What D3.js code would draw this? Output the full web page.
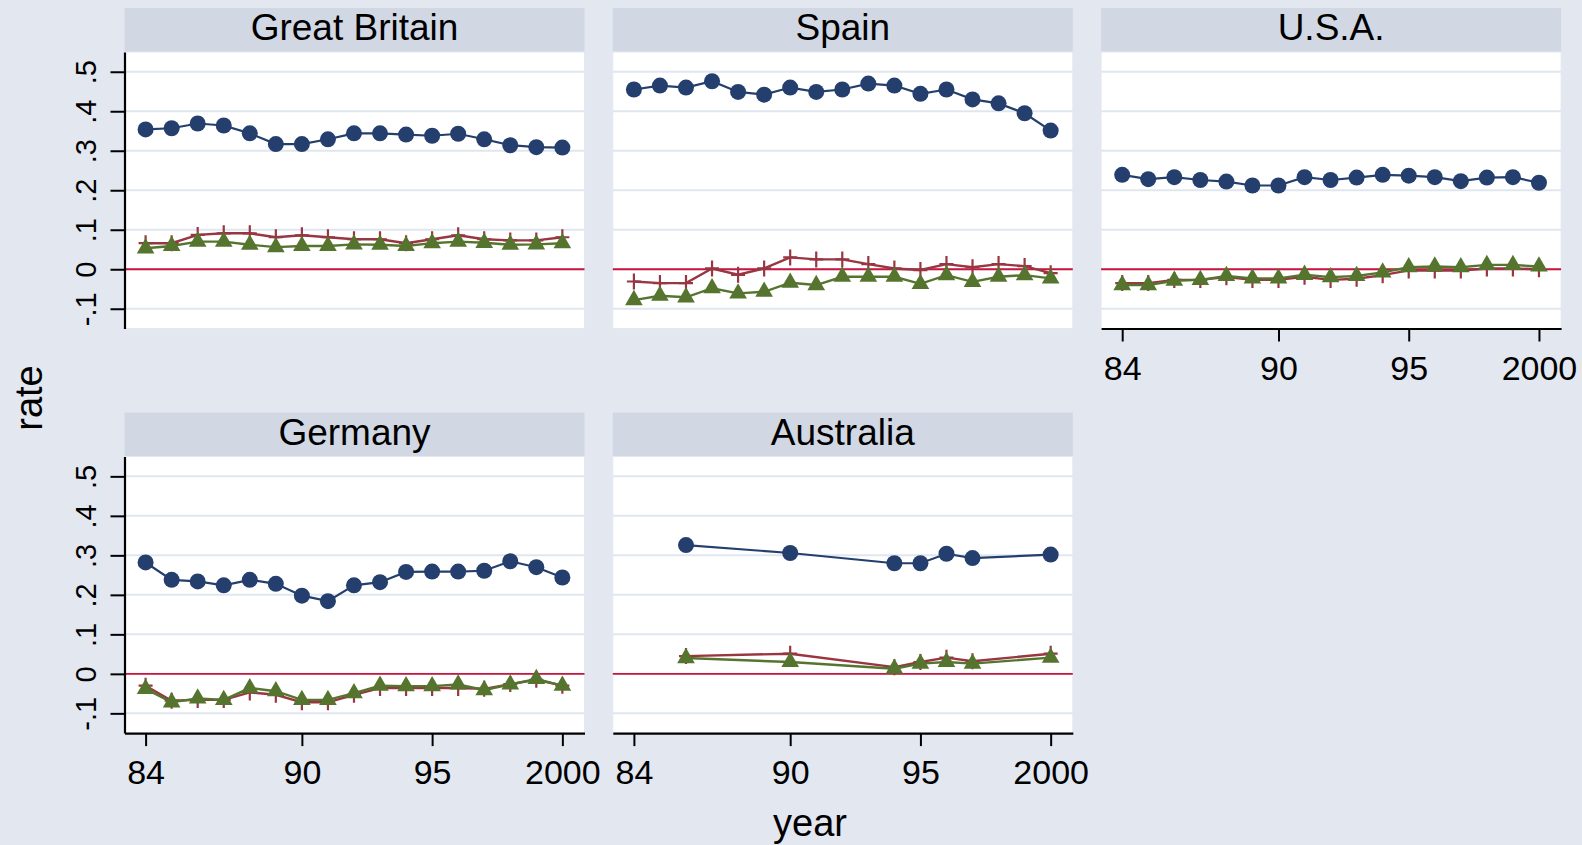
<!DOCTYPE html>
<html>
<head>
<meta charset="utf-8">
<style>
  body { margin: 0; background: #e2e7f0; }
  svg { display: block; font-family: "Liberation Sans", Arial, sans-serif; }
</style>
<script src="https://d3js.org/d3.v7.min.js"></script>
</head>
<body>
<script>
// data
const countries = ["Great Britain", "Spain", "U.S.A.", "Germany", "Australia"];
const years = [1984, 1985, 1986, 1987, 1988, 1989, 1990, 1991, 1992, 1993, 1994, 1995, 1996, 1997, 1998, 1999, 2000];
const ausYears = [1986, 1990, 1994, 1995, 1996, 1997, 2000];

const gbCircle = [0.354, 0.357, 0.369, 0.364, 0.344, 0.317, 0.317, 0.329, 0.344, 0.344, 0.341, 0.338, 0.343, 0.329, 0.314, 0.309, 0.308];
const gbPlus = [0.066, 0.066, 0.087, 0.091, 0.091, 0.081, 0.086, 0.081, 0.076, 0.076, 0.066, 0.076, 0.086, 0.076, 0.073, 0.073, 0.081];
const gbTriangle = [0.053, 0.059, 0.070, 0.070, 0.062, 0.056, 0.059, 0.059, 0.063, 0.062, 0.059, 0.066, 0.070, 0.067, 0.062, 0.063, 0.066];

const esCircle = [0.455, 0.465, 0.460, 0.476, 0.449, 0.442, 0.460, 0.449, 0.455, 0.470, 0.465, 0.444, 0.455, 0.430, 0.420, 0.395, 0.351];
const esPlus = [-0.031, -0.035, -0.035, 0.002, -0.014, 0.002, 0.030, 0.025, 0.025, 0.013, 0.002, -0.002, 0.013, 0.005, 0.013, 0.008, -0.010];
const esTriangle = [-0.078, -0.067, -0.071, -0.048, -0.061, -0.057, -0.034, -0.040, -0.019, -0.019, -0.019, -0.037, -0.015, -0.032, -0.019, -0.015, -0.023];

const usCircle = [0.239, 0.228, 0.233, 0.226, 0.222, 0.212, 0.212, 0.233, 0.226, 0.232, 0.239, 0.237, 0.233, 0.223, 0.232, 0.233, 0.219];
const usPlus = [-0.035, -0.035, -0.027, -0.027, -0.020, -0.027, -0.027, -0.019, -0.027, -0.024, -0.015, -0.003, -0.003, -0.003, 0.002, 0.002, 0.000];
const usTriangle = [-0.040, -0.040, -0.029, -0.027, -0.017, -0.023, -0.023, -0.014, -0.020, -0.017, -0.008, 0.005, 0.007, 0.005, 0.011, 0.011, 0.007];

const deCircle = [0.282, 0.238, 0.234, 0.224, 0.238, 0.228, 0.198, 0.184, 0.224, 0.232, 0.258, 0.259, 0.259, 0.261, 0.285, 0.270, 0.244];
const dePlus = [-0.030, -0.068, -0.066, -0.066, -0.047, -0.053, -0.072, -0.072, -0.053, -0.036, -0.036, -0.036, -0.036, -0.038, -0.026, -0.015, -0.030];
const deTriangle = [-0.038, -0.072, -0.062, -0.066, -0.036, -0.044, -0.066, -0.066, -0.049, -0.030, -0.031, -0.031, -0.027, -0.041, -0.027, -0.013, -0.030];

const auCircle = [0.326, 0.306, 0.280, 0.280, 0.304, 0.293, 0.302];
const auPlus = [0.045, 0.051, 0.017, 0.030, 0.041, 0.032, 0.051];
const auTriangle = [0.040, 0.030, 0.013, 0.026, 0.030, 0.026, 0.041];

const yTicks = [-0.1, 0, 0.1, 0.2, 0.3, 0.4, 0.5];
const yTickLabels = ["-.1", "0", ".1", ".2", ".3", ".4", ".5"];
const xTicks = [1984, 1990, 1995, 2000];
const xTickLabels = ["84", "90", "95", "2000"];

const w = 1582, h = 845;
const colLeft = 124.5, colStep = 488.3, panelW = 460;
const rowTop = 8, rowStep = 404.6, headH = 44, plotH = 276.5;

const navy = "#243f6e", maroon = "#983641", green = "#55752f", zeroRed = "#c8163e";

const panels = [
  { name: countries[0], x: years, circle: gbCircle, plus: gbPlus, tri: gbTriangle },
  { name: countries[1], x: years, circle: esCircle, plus: esPlus, tri: esTriangle },
  { name: countries[2], x: years, circle: usCircle, plus: usPlus, tri: usTriangle },
  { name: countries[3], x: years, circle: deCircle, plus: dePlus, tri: deTriangle },
  { name: countries[4], x: ausYears, circle: auCircle, plus: auPlus, tri: auTriangle }
];

const svg = d3.select("body").append("svg")
  .attr("width", w)
  .attr("height", h);

svg.append("rect").attr("width", w).attr("height", h).attr("fill", "#e2e7f0");

const x = d3.scaleLinear().domain([1983.19, 2000.85]).range([0, panelW]);
const y = d3.scaleLinear().domain([-0.15, 0.55]).range([plotH, 0]);

const line = d3.line().x(d => x(d[0])).y(d => y(d[1]));
const triPath = d3.symbol().type(d3.symbolTriangle).size(135)();

panels.forEach((p, i) => {
  const col = i % 3, row = Math.floor(i / 3);
  const g = svg.append("g")
    .attr("transform", `translate(${colLeft + col * colStep},${rowTop + row * rowStep})`);

  // header band
  g.append("rect")
    .attr("width", panelW).attr("height", headH)
    .attr("fill", "#d1d8e4");
  g.append("text")
    .attr("x", panelW / 2).attr("y", 32)
    .attr("text-anchor", "middle")
    .attr("font-size", 37)
    .text(p.name);

  const plot = g.append("g").attr("transform", `translate(0,${headH})`);
  plot.append("rect")
    .attr("width", panelW).attr("height", plotH)
    .attr("fill", "white")
    .attr("stroke", "#e4e8f0");

  plot.selectAll(".grid")
    .data(yTicks)
    .enter()
    .append("line")
    .attr("x1", 0).attr("x2", panelW)
    .attr("y1", d => y(d)).attr("y2", d => y(d))
    .attr("stroke", "#e0e6ef")
    .attr("stroke-width", 2);

  plot.append("line")
    .attr("x1", 0).attr("x2", panelW)
    .attr("y1", y(0)).attr("y2", y(0))
    .attr("stroke", zeroRed)
    .attr("stroke-width", 1.8);

  const circ = p.x.map((yr, k) => [yr, p.circle[k]]);
  const plus = p.x.map((yr, k) => [yr, p.plus[k]]);
  const tri = p.x.map((yr, k) => [yr, p.tri[k]]);

  plot.append("path").datum(circ)
    .attr("d", line).attr("fill", "none")
    .attr("stroke", navy).attr("stroke-width", 2.2);
  plot.selectAll(".dot").data(circ).enter()
    .append("circle")
    .attr("cx", d => x(d[0])).attr("cy", d => y(d[1]))
    .attr("r", 8)
    .attr("fill", navy);

  plot.append("path").datum(plus)
    .attr("d", line).attr("fill", "none")
    .attr("stroke", maroon).attr("stroke-width", 2.4);
  plot.selectAll(".plus").data(plus).enter()
    .append("path")
    .attr("transform", d => `translate(${x(d[0])},${y(d[1])})`)
    .attr("d", "M-7,0H7M0,-8V8")
    .attr("stroke", maroon).attr("stroke-width", 2.2);

  plot.append("path").datum(tri)
    .attr("d", line).attr("fill", "none")
    .attr("stroke", green).attr("stroke-width", 2.4);
  plot.selectAll(".tri").data(tri).enter()
    .append("path")
    .attr("transform", d => `translate(${x(d[0])},${y(d[1])})`)
    .attr("d", triPath)
    .attr("fill", green);

  // y axis only on the left column
  if (col === 0) {
    const yAxis = plot.append("g")
      .call(d3.axisLeft(y).tickValues(yTicks)
        .tickFormat((d, k) => yTickLabels[k])
        .tickSize(14).tickSizeOuter(0));
    yAxis.select(".domain").attr("stroke-width", 2.2);
    yAxis.selectAll(".tick line").attr("stroke-width", 2);
    yAxis.selectAll(".tick text")
      .attr("x", null).attr("dy", null)
      .attr("transform", "translate(-29,0) rotate(-90)")
      .attr("text-anchor", "middle")
      .attr("font-size", 29)
      .attr("fill", "black");
  }

  // x axis where there is no panel below
  if (i + 3 >= panels.length) {
    const xAxis = plot.append("g")
      .attr("transform", `translate(0,${plotH})`)
      .call(d3.axisBottom(x).tickValues(xTicks)
        .tickFormat((d, k) => xTickLabels[k])
        .tickSize(13).tickSizeOuter(0).tickPadding(14));
    xAxis.select(".domain").attr("stroke-width", 2.2);
    xAxis.selectAll(".tick line").attr("stroke-width", 2);
    xAxis.selectAll(".tick text")
      .attr("font-size", 34)
      .attr("fill", "black");
  }
});

svg.append("text")
  .attr("transform", "translate(42,398) rotate(-90)")
  .attr("text-anchor", "middle")
  .attr("font-size", 38)
  .text("rate");

svg.append("text")
  .attr("x", 810).attr("y", 836)
  .attr("text-anchor", "middle")
  .attr("font-size", 38)
  .text("year");
</script>
</body>
</html>
